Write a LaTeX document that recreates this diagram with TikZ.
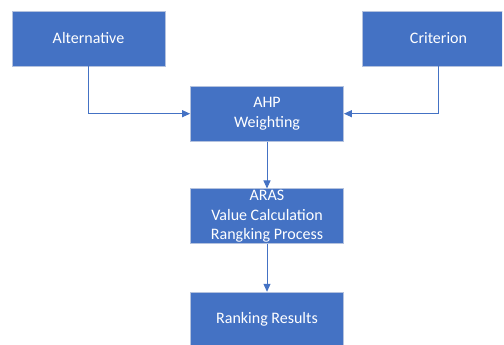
\documentclass[tikz,border=0pt]{standalone}
\usepackage{fontspec}
\setmainfont{Carlito}
\usetikzlibrary{arrows.meta}
\definecolor{boxfill}{HTML}{4472C4}
\definecolor{boxedge}{HTML}{B4C2DE}
\definecolor{flowline}{HTML}{4472C4}
\tikzset{
    stage/.style={
        rectangle,
        fill=boxfill,
        draw=boxedge,
        line width=0.8pt,
        minimum width=153pt,
        minimum height=55pt,
        inner sep=0pt,
        text=white,
        align=center,
        font=\fontsize{16}{19.5}\selectfont,
    },
    flow/.style={
        draw=flowline,
        line width=1pt,
        -{Triangle[length=8pt,width=7pt]},
    }
}

\begin{document}
\begin{tikzpicture}[x=1pt,y=1pt]
    \useasboundingbox (0,0) rectangle (504,345);
    \clip (0,0) rectangle (502,345);

    % Inputs: top row
    \node[stage] (alternative) at (88.5,306.5) {Alternative};
    \node[stage] (criterion) at (438.5,306.5) {Criterion};

    % Main column: AHP -> ARAS -> results
    \node[stage] (ahp) at (267,231.3) {AHP\\Weighting};
    \node[stage] (aras) at (267,128.6) {ARAS\\Value Calculation\\Rangking Process};
    \node[stage] (results) at (267,25.3) {Ranking Results};

    \draw[flow] (alternative) |- (ahp);
    \draw[flow] (criterion) |- (ahp);
    \draw[flow] (ahp) -- (aras);
    \draw[flow] (aras) -- (results);
\end{tikzpicture}
\end{document}
